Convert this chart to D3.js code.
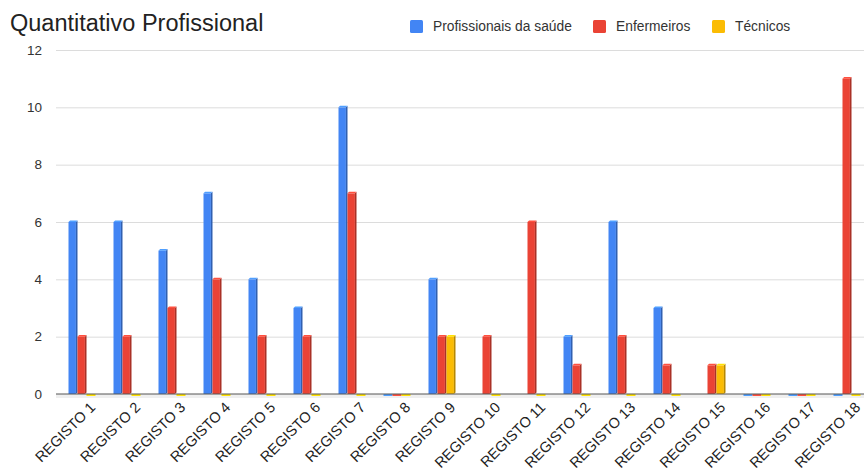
<!DOCTYPE html>
<html>
<head>
<meta charset="utf-8">
<script src="https://cdn.jsdelivr.net/npm/d3@7"></script>
<style>
  body { margin: 0; background: #fff; }
  svg { display: block; font-family: "Liberation Sans", Arial, sans-serif; }
</style>
</head>
<body>
<div id="container"></div>
<script>
const categories = ['REGISTO 1', 'REGISTO 2', 'REGISTO 3', 'REGISTO 4', 'REGISTO 5', 'REGISTO 6',
  'REGISTO 7', 'REGISTO 8', 'REGISTO 9', 'REGISTO 10', 'REGISTO 11', 'REGISTO 12',
  'REGISTO 13', 'REGISTO 14', 'REGISTO 15', 'REGISTO 16', 'REGISTO 17', 'REGISTO 18'];
const profissionais = [6, 6, 5, 7, 4, 3, 10, 0, 4, null, null, 2, 6, 3, null, 0, 0, 0];
const enfermeiros = [2, 2, 3, 4, 2, 2, 7, 0, 2, 2, 6, 1, 2, 1, 1, 0, 0, 11];
const tecnicos = [0, 0, 0, 0, 0, 0, 0, 0, 2, 0, 0, 0, 0, 0, 1, 0, 0, 0];
const seriesNames = ['Profissionais da saúde', 'Enfermeiros', 'Técnicos'];
const colors = ['#4285f4', '#ea4335', '#fbbc04'];
const yTicks = [0, 2, 4, 6, 8, 10, 12];

const W = 864, H = 472;
const svg = d3.select('#container').append('svg').attr('width', W).attr('height', H);

// Scales
const x0 = d3.scaleBand().domain(categories).range([59.5, 869.5]);
const x1 = d3.scaleBand().domain(d3.range(3)).range([9, 36]);
const y = d3.scaleLinear().domain([0, 12]).range([394, 50]);

// Title
svg.append('text').attr('x', 10).attr('y', 31)
  .attr('font-size', 23.5).attr('fill', '#222').text('Quantitativo Profissional');

// Legend
const legendX = [410, 593, 712];
seriesNames.forEach((name, i) => {
  svg.append('rect').attr('x', legendX[i]).attr('y', 20).attr('width', 13).attr('height', 13)
    .attr('rx', 1.5).attr('fill', colors[i]);
  svg.append('text').attr('x', legendX[i] + 23).attr('y', 31)
    .attr('font-size', 13.8).attr('fill', '#333').text(name);
});

// Grid + y axis
const yAxis = d3.axisLeft(y).tickValues(yTicks).tickSize(-808).tickPadding(14);
const gy = svg.append('g').attr('transform', 'translate(56,0)').call(yAxis);
gy.select('.domain').remove();
gy.selectAll('.tick line').attr('stroke', '#dcdcdc');
gy.selectAll('.tick text').attr('font-size', 13.5).attr('fill', '#333')
  .attr('font-family', '"Liberation Sans", Arial, sans-serif');

// Floor band
svg.append('rect').attr('x', 56).attr('y', 394).attr('width', 808).attr('height', 4).attr('fill', '#efefef');

// Bars (pseudo 3D)
const series = [profissionais, enfermeiros, tecnicos];
const side = 1.6, front = x1.bandwidth() - side;
series.forEach((vals, si) => {
  const base = d3.color(colors[si]);
  const dark = base.darker(0.9).formatHex();
  const light = base.brighter(0.5).formatHex();
  const g = svg.append('g');
  vals.forEach((v, ci) => {
    if (v === null) return;
    const bx = x0(categories[ci]) + x1(si);
    if (v === 0) {
      g.append('rect').attr('x', bx).attr('y', 394).attr('width', x1.bandwidth()).attr('height', 2)
        .attr('fill', light);
      return;
    }
    const top = y(v);
    g.append('rect').attr('x', bx).attr('y', top).attr('width', front).attr('height', 394 - top)
      .attr('fill', colors[si]);
    g.append('polygon')
      .attr('points', [[bx + front, top], [bx + front + side, top - side], [bx + front + side, 394 - side], [bx + front, 394]].join(' '))
      .attr('fill', dark);
    g.append('polygon')
      .attr('points', [[bx, top], [bx + side, top - side], [bx + front + side, top - side], [bx + front, top]].join(' '))
      .attr('fill', light);
  });
});

// Baseline
svg.append('line').attr('x1', 56).attr('x2', 864).attr('y1', 394).attr('y2', 394)
  .attr('stroke', '#555').attr('stroke-width', 1);

// X axis labels
const xAxis = d3.axisBottom(x0).tickSize(0).tickPadding(0);
const gx = svg.append('g').attr('transform', 'translate(0,401)').call(xAxis);
gx.select('.domain').remove();
gx.selectAll('.tick text')
  .attr('font-size', 14.6).attr('fill', '#222')
  .attr('font-family', '"Liberation Sans", Arial, sans-serif')
  .attr('text-anchor', 'end')
  .attr('dy', '0.7em')
  .attr('transform', 'translate(7,0) rotate(-45)');
</script>
</body>
</html>
